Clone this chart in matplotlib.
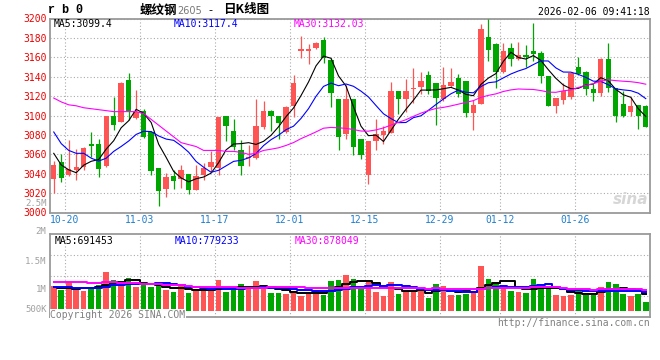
import numpy as np
import pandas as pd
import matplotlib
matplotlib.use('Agg')
import matplotlib.pyplot as plt

plt.rcParams['font.family'] = ['DejaVu Sans Mono', 'Noto Sans CJK SC']

# trading days shown (new year holiday removed)
dates = [d.strftime('%m-%d') for d in pd.bdate_range('2025-10-16', '2026-02-06')
         if d.strftime('%Y-%m-%d') not in ('2026-01-01', '2026-01-02')]
tick_dates = ['10-20', '11-03', '11-17', '12-01', '12-15', '12-29', '01-12', '01-26']

open_ = [3035, 3052, 3039, 3044, 3047, 3071, 3071, 3048, 3099, 3093,
         3137, 3097, 3105, 3083, 3046, 3024, 3038, 3035, 3040, 3023,
         3039, 3047, 3046, 3099, 3084, 3064, 3056, 3056, 3088, 3105,
         3099, 3083, 3110, 3166, 3166, 3170, 3178, 3157, 3117, 3081,
         3117, 3076, 3039, 3074, 3080, 3082, 3125, 3117, 3127, 3129,
         3142, 3133, 3117, 3130, 3139, 3136, 3103, 3112, 3181, 3174,
         3145, 3170, 3158, 3162, 3166, 3164, 3141, 3110, 3116, 3119,
         3150, 3145, 3127, 3123, 3158, 3128, 3112, 3104, 3111, 3110]
high = [3053, 3060, 3075, 3065, 3068, 3083, 3076, 3100, 3119, 3135,
        3144, 3126, 3107, 3084, 3046, 3041, 3044, 3049, 3040, 3049,
        3051, 3063, 3098, 3099, 3096, 3075, 3070, 3117, 3115, 3106,
        3099, 3110, 3142, 3182, 3174, 3176, 3181, 3159, 3117, 3131,
        3117, 3076, 3074, 3096, 3089, 3135, 3125, 3138, 3149, 3145,
        3146, 3133, 3150, 3149, 3143, 3136, 3116, 3194, 3200, 3175,
        3175, 3175, 3176, 3173, 3195, 3167, 3141, 3118, 3134, 3144,
        3160, 3146, 3132, 3159, 3175, 3128, 3125, 3119, 3111, 3111]
low = [3020, 3031, 3038, 3034, 3044, 3057, 3037, 3047, 3085, 3093,
       3095, 3096, 3077, 3039, 3007, 3016, 3024, 3025, 3019, 3023,
       3034, 3042, 3039, 3074, 3064, 3039, 3048, 3055, 3086, 3084,
       3076, 3082, 3098, 3159, 3153, 3169, 3154, 3109, 3064, 3076,
       3059, 3055, 3029, 3064, 3071, 3082, 3102, 3104, 3113, 3122,
       3122, 3090, 3115, 3129, 3119, 3098, 3085, 3112, 3156, 3128,
       3144, 3151, 3157, 3150, 3156, 3134, 3110, 3103, 3112, 3117,
       3142, 3121, 3115, 3120, 3124, 3093, 3098, 3099, 3086, 3088]
close = [3049, 3036, 3045, 3047, 3067, 3069, 3045, 3099, 3090, 3134,
         3105, 3104, 3078, 3043, 3022, 3037, 3032, 3044, 3023, 3038,
         3046, 3052, 3098, 3089, 3068, 3048, 3057, 3089, 3105, 3099,
         3092, 3109, 3134, 3169, 3169, 3175, 3159, 3123, 3078, 3117,
         3068, 3059, 3074, 3081, 3084, 3125, 3117, 3125, 3128, 3136,
         3125, 3118, 3131, 3135, 3122, 3103, 3111, 3189, 3168, 3145,
         3166, 3158, 3162, 3160, 3163, 3141, 3110, 3118, 3125, 3144,
         3143, 3127, 3123, 3158, 3128, 3099, 3099, 3110, 3099, 3088]
# volume, millions of lots
volume_m = [1.01, 0.88, 1.17, 0.90, 0.83, 0.90, 1.05, 1.60, 1.26, 1.15,
            1.37, 0.98, 1.05, 0.98, 1.05, 0.88, 0.78, 1.01, 0.74, 0.88,
            0.88, 0.81, 1.29, 0.78, 0.88, 1.10, 0.90, 1.24, 0.98, 0.74,
            0.74, 0.69, 0.81, 0.62, 0.74, 0.88, 0.67, 1.24, 1.29, 1.49,
            1.33, 0.90, 1.22, 0.78, 0.62, 1.19, 0.69, 0.83, 0.83, 0.81,
            0.54, 1.10, 1.03, 0.67, 0.65, 0.69, 0.83, 1.85, 1.31, 1.15,
            0.95, 0.83, 0.78, 0.74, 1.31, 1.03, 0.95, 0.67, 0.62, 0.67,
            0.81, 0.67, 0.67, 0.98, 1.19, 1.10, 0.69, 0.62, 0.69, 0.37]

# moving averages before enough bars are on screen
ma5_head = [3061, 3049, 3044, 3041]
ma10_head = [3083, 3071, 3064, 3061, 3061, 3056, 3053, 3056, 3063]
ma30_head = [3118, 3114, 3111, 3110, 3108, 3107, 3106, 3105, 3104, 3104,
             3104, 3104, 3102, 3096, 3090, 3084, 3078, 3072, 3070, 3068,
             3064, 3064, 3064, 3063, 3063, 3062, 3060, 3061, 3064]
vma5_head = [0.99, 0.95, 0.93, 0.92]
vma10_head = [0.98, 0.98, 0.98, 0.93, 0.93, 0.93, 0.93, 1.00, 1.05]
vma30_head = [1.19, 1.19, 1.19, 1.19, 1.17, 1.13, 1.13, 1.17, 1.17, 1.16,
              1.15, 1.13, 1.11, 1.11, 1.10, 1.08, 1.08, 1.05, 1.01, 0.98,
              0.98, 0.97, 0.97, 0.97, 0.97, 0.96, 0.94, 0.94, 0.94]

RED = '#ff5454'
GREEN = '#00a600'
GRID = '#aaaaaa'
FRAME = '#9a9a9a'
W, H = 660, 360


def ma(series, n, head):
    out = pd.Series(series).rolling(n).mean().to_numpy()
    out[:n - 1] = head
    return out


def fx(x):
    return x / W


def fy(y):
    return 1 - y / H


o = np.array(open_, float)
c = np.array(close, float)
vol = np.array(volume_m) * 1e6
x = np.arange(len(c))
colors = np.where(c >= o, RED, GREEN)
tick_pos = [dates.index(d) - 0.5 for d in tick_dates]

fig = plt.figure(figsize=(6.6, 3.6), dpi=100)
ax = fig.add_axes([fx(50), fy(212.5), 599.5 / W, 194 / H])
axv = fig.add_axes([fx(50), fy(317), 599.5 / W, 83 / H])

# price panel
ax.vlines(x, low, high, colors=colors, lw=0.9, zorder=3)
ax.bar(x, np.maximum(np.abs(c - o), 0.8), bottom=np.minimum(o, c),
       width=0.72, color=colors, lw=0, zorder=3)
ax.plot(x, ma(c, 5, ma5_head), color='black', lw=0.8, zorder=4)
ax.plot(x, ma(c, 10, ma10_head), color='#0000ff', lw=0.8, zorder=4)
ax.plot(x, ma(c, 30, ma30_head), color='#ff00ff', lw=0.8, zorder=4)
ax.set_xlim(-0.5, len(c) - 0.5)
ax.set_ylim(3000, 3200)
ax.set_yticks(np.arange(3000, 3201, 20))
ax.tick_params(axis='y', length=0, pad=2.5, labelsize=7, labelcolor='#ee0000')
ax.set_xticks(tick_pos)
ax.set_xticklabels(tick_dates)
ax.tick_params(axis='x', length=0, pad=2, labelsize=7, labelcolor='#1f7fd0')

# volume panel
axv.bar(x, vol, width=0.74, color=colors, lw=0, zorder=3)
axv.plot(x, ma(vol, 5, np.array(vma5_head) * 1e6), color='black', lw=1.4,
         drawstyle='steps-mid', zorder=4)
axv.plot(x, ma(vol, 10, np.array(vma10_head) * 1e6), color='#0000ff', lw=1.4,
         drawstyle='steps-mid', zorder=4)
axv.plot(x, ma(vol, 30, np.array(vma30_head) * 1e6), color='#ff00ff', lw=1.4,
         drawstyle='steps-mid', zorder=4)
axv.set_xlim(-0.5, len(c) - 0.5)
vlo, vhi = -0.246e6, 3.156e6
axv.set_ylim(vlo, vhi)
axv.set_yticks([vlo + (vhi - vlo) * f for f in (0.25, 0.5, 0.75)])
axv.set_yticklabels([])
axv.set_xticks(tick_pos)
axv.set_xticklabels([])
axv.tick_params(length=0)

for a in (ax, axv):
    a.grid(True, color=GRID, ls=(0, (1, 2)), lw=0.8)
    a.set_axisbelow(True)
    for s in a.spines.values():
        s.set_color(FRAME)
        s.set_linewidth(1.3)

# header
fig.text(fx(48), fy(10), 'r b 0', family='Liberation Mono', weight='bold',
         fontsize=8.5, va='center')
fig.text(fx(140), fy(10), '螺纹钢', family='Noto Sans CJK SC', weight='bold',
         fontsize=9, va='center')
fig.text(fx(177), fy(10.5), '2605', family='DejaVu Sans', color='#777777',
         fontsize=7, va='center')
fig.text(fx(210), fy(10), '-', family='DejaVu Sans', fontsize=8,
         va='center', ha='center')
fig.text(fx(223), fy(10), '日K线图', family='Noto Sans CJK SC', weight='bold',
         fontsize=9, va='center')
fig.text(fx(649.5), fy(12), '2026-02-06 09:41:18', fontsize=7,
         ha='right', va='center')

# moving-average readouts
fig.text(fx(54), fy(24), 'MA5:3099.4', fontsize=7, va='center')
fig.text(fx(174), fy(24), 'MA10:3117.4', fontsize=7, va='center', color='#0000ff')
fig.text(fx(294), fy(24), 'MA30:3132.03', fontsize=7, va='center', color='#ff00ff')
fig.text(fx(55), fy(240.5), 'MA5:691453', fontsize=7, va='center')
fig.text(fx(175), fy(240.5), 'MA10:779233', fontsize=7, va='center', color='#0000ff')
fig.text(fx(295), fy(240.5), 'MA30:878049', fontsize=7, va='center', color='#ff00ff')

# volume scale labels as drawn by the site
for lab, yy in [('2.5M', 203), ('2M', 231), ('1.5M', 261), ('1M', 290), ('500K', 310)]:
    fig.text(fx(46.5), fy(yy), lab, fontsize=6.5, ha='right', va='center',
             color='#a0a0a0')

# footer and watermark
fig.text(fx(50), fy(314.5), 'Copyright 2026 SINA.COM', fontsize=7, va='center',
         color='#808080', bbox=dict(fc='white', ec='none', pad=0.3))
fig.text(fx(649.5), fy(323.5), 'http://finance.sina.com.cn', fontsize=7,
         ha='right', va='center', color='#808080')
fig.text(fx(648), fy(199), 'sina', family='DejaVu Sans', fontsize=11,
         style='italic', weight='bold', ha='right', va='center', color='#d6d6d6')

fig.savefig('out.png', dpi=100)
